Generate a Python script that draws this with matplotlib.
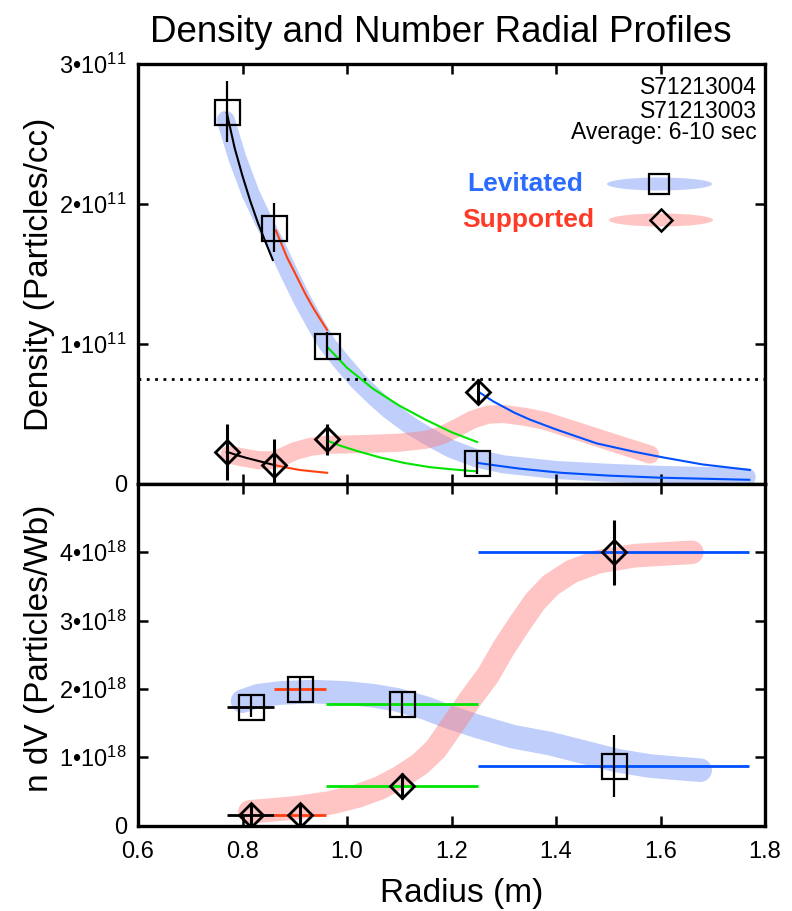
import matplotlib
matplotlib.use('Agg')
import matplotlib.pyplot as plt
from matplotlib import font_manager
from matplotlib.patches import Ellipse

plt.rcParams['font.family'] = ['Liberation Sans', 'DejaVu Sans']
plt.rcParams['mathtext.fontset'] = 'custom'
plt.rcParams['mathtext.rm'] = 'Liberation Sans'
plt.rcParams['mathtext.default'] = 'regular'

# ---------------- data ----------------
E11 = 1e11
E18 = 1e18

# Top panel: density (units of 1e11 particles/cc)
lev_r = [0.770, 0.860, 0.962, 1.249]
lev_n = [2.66, 1.83, 0.986, 0.15]
lev_n_err = [0.22, 0.175, 0.10, 0.08]

sup_r = [0.770, 0.860, 0.962, 1.251]
sup_n = [0.23, 0.136, 0.32, 0.66]
sup_n_err = [0.20, 0.185, 0.11, 0.09]

density_limit = 0.75

# fitted profile segments (levitated)
lev_fit1_r = [0.770, 0.785, 0.800, 0.815, 0.830, 0.845, 0.858]
lev_fit1_n = [2.65, 2.40, 2.20, 2.02, 1.86, 1.72, 1.60]
lev_fit2_r = [0.864, 0.885, 0.904, 0.920, 0.935, 0.950, 0.962]
lev_fit2_n = [1.81, 1.62, 1.48, 1.36, 1.26, 1.17, 1.10]
lev_fit3_r = [0.962, 1.00, 1.05, 1.10, 1.15, 1.20, 1.249]
lev_fit3_n = [0.98, 0.83, 0.68, 0.56, 0.46, 0.37, 0.30]
lev_fit4_r = [1.251, 1.29, 1.33, 1.41, 1.50, 1.60, 1.77]
lev_fit4_n = [0.15, 0.13, 0.11, 0.08, 0.06, 0.045, 0.03]

# fitted profile segments (supported)
sup_fit1_r = [0.770, 0.790, 0.808, 0.830, 0.860]
sup_fit1_n = [0.23, 0.205, 0.186, 0.165, 0.136]
sup_fit2_r = [0.860, 0.885, 0.91, 0.935, 0.962]
sup_fit2_n = [0.136, 0.117, 0.10, 0.09, 0.08]
sup_fit3_r = [0.962, 0.99, 1.02, 1.063, 1.11, 1.159, 1.20, 1.249]
sup_fit3_n = [0.31, 0.27, 0.235, 0.19, 0.15, 0.12, 0.105, 0.09]
sup_fit4_r = [1.251, 1.28, 1.32, 1.35, 1.40, 1.478, 1.55, 1.605, 1.68, 1.771]
sup_fit4_n = [0.66, 0.59, 0.51, 0.46, 0.39, 0.29, 0.23, 0.19, 0.14, 0.10]

# hand-drawn trend bands, top panel
lev_band_r = [0.768, 0.79, 0.815, 0.84, 0.865, 0.89, 0.915, 0.94, 0.962, 0.99, 1.02, 1.05,
              1.08, 1.12, 1.16, 1.20, 1.25, 1.30, 1.40, 1.50, 1.60, 1.765]
lev_band_n = [2.60, 2.33, 2.08, 1.88, 1.70, 1.50, 1.31, 1.14, 1.00, 0.87, 0.74, 0.63,
              0.53, 0.42, 0.33, 0.25, 0.18, 0.14, 0.10, 0.08, 0.065, 0.05]
sup_band_r = [0.775, 0.80, 0.83, 0.86, 0.88, 0.90, 0.93, 0.96, 1.03, 1.10, 1.15, 1.18,
              1.21, 1.24, 1.27, 1.30, 1.34, 1.38, 1.43, 1.48, 1.53, 1.58]
sup_band_n = [0.21, 0.19, 0.17, 0.17, 0.20, 0.235, 0.265, 0.28, 0.285, 0.295, 0.315, 0.345,
              0.40, 0.46, 0.495, 0.50, 0.48, 0.45, 0.39, 0.33, 0.27, 0.21]

# Bottom panel: number per flux (units of 1e18 particles/Wb)
shell_lo = [0.77, 0.86, 0.96, 1.25]
shell_hi = [0.86, 0.96, 1.25, 1.77]
nv_r = [0.816, 0.910, 1.105, 1.511]
lev_nv = [1.74, 2.00, 1.78, 0.87]
lev_nv_err = [0.15, 0.19, 0.19, 0.46]
sup_nv = [0.155, 0.155, 0.58, 4.00]
sup_nv_err = [0.16, 0.17, 0.19, 0.48]

lev_nvband_r = [0.800, 0.83, 0.872, 0.935, 1.0, 1.05, 1.096, 1.15, 1.191, 1.25, 1.318, 1.388,
                1.45, 1.517, 1.58, 1.643, 1.676]
lev_nvband_n = [1.82, 1.90, 1.94, 1.96, 1.94, 1.90, 1.84, 1.72, 1.60, 1.45, 1.30, 1.20,
                1.08, 0.95, 0.87, 0.83, 0.81]
sup_nvband_r = [0.814, 0.86, 0.904, 0.967, 1.02, 1.063, 1.10, 1.14, 1.17, 1.20, 1.235, 1.27,
                1.30, 1.33, 1.36, 1.39, 1.43, 1.48, 1.55, 1.66]
sup_nvband_n = [0.20, 0.23, 0.26, 0.33, 0.43, 0.55, 0.70, 0.90, 1.12, 1.45, 1.84, 2.20,
                2.60, 2.95, 3.28, 3.52, 3.72, 3.86, 3.95, 4.00]

x_ticks = [0.6, 0.8, 1.0, 1.2, 1.4, 1.6, 1.8]
x_ticklabels = ['0.6', '0.8', '1.0', '1.2', '1.4', '1.6', '1.8']
top_yticks = [0, 1, 2, 3]
top_yticklabels = ['0', '1•10$^{11}$', '2•10$^{11}$', '3•10$^{11}$']
bot_yticks = [0, 1, 2, 3, 4]
bot_yticklabels = ['0', '1•10$^{18}$', '2•10$^{18}$', '3•10$^{18}$', '4•10$^{18}$']

seg_colors = ['black', '#ff4010', '#00e400', '#0050ff']

# ---------------- style ----------------
BLUE_BAND = '#7394f4'
PINK_BAND = '#ff7c7c'
BAND_ALPHA = 0.45

W, H = 792, 911
fig = plt.figure(figsize=(W / 100, H / 100), dpi=100)
left, right = 138, 765
ax1 = fig.add_axes([left / W, 1 - 484 / H, (right - left) / W, 420 / H])
ax2 = fig.add_axes([left / W, 1 - 825.5 / H, (right - left) / W, 341.5 / H])

names = {f.name for f in font_manager.fontManager.ttflist}
if 'Liberation Sans Narrow' in names:
    fig.text(441 / W, 1 - 42 / H, 'Density and Number Radial Profiles',
             family='Liberation Sans Narrow', fontsize=31, ha='center', va='baseline')
else:
    fig.text(441 / W, 1 - 42 / H, 'Density and Number Radial Profiles',
             fontsize=26.5, ha='center', va='baseline')

for ax in (ax1, ax2):
    ax.set_xlim(0.6, 1.8)
    ax.set_xticks(x_ticks)
    ax.tick_params(direction='in', length=7, width=1.8, top=True, right=True,
                   labelsize=17, pad=8)
    ax.tick_params(axis='x', pad=11)
    for s in ax.spines.values():
        s.set_linewidth(2.4)

band_kw = dict(solid_capstyle='round', solid_joinstyle='round', zorder=1)

# ---- top panel ----
ax1.set_ylim(0, 3 * E11)
ax1.set_yticks([t * E11 for t in top_yticks])
ax1.set_yticklabels(top_yticklabels)
ax1.tick_params(labelbottom=False)

ax1.plot(lev_band_r, [v * E11 for v in lev_band_n], color=BLUE_BAND, alpha=BAND_ALPHA,
         lw=13, **band_kw)
ax1.plot(sup_band_r, [v * E11 for v in sup_band_n], color=PINK_BAND, alpha=BAND_ALPHA,
         lw=13, **band_kw)

ax1.axhline(density_limit * E11, color='black', lw=2, ls=(0, (1, 2)), zorder=2)

lev_fits = [(lev_fit1_r, lev_fit1_n), (lev_fit2_r, lev_fit2_n),
            (lev_fit3_r, lev_fit3_n), (lev_fit4_r, lev_fit4_n)]
sup_fits = [(sup_fit1_r, sup_fit1_n), (sup_fit2_r, sup_fit2_n),
            (sup_fit3_r, sup_fit3_n), (sup_fit4_r, sup_fit4_n)]
for (r, n), c in zip(lev_fits, seg_colors):
    ax1.plot(r, [v * E11 for v in n], color=c, lw=1.5, zorder=3)
for (r, n), c in zip(sup_fits, seg_colors):
    ax1.plot(r, [v * E11 for v in n], color=c, lw=1.5, zorder=3)

ax1.errorbar(lev_r, [v * E11 for v in lev_n], yerr=[v * E11 for v in lev_n_err],
             fmt='s', ms=18, mfc='none', mec='black', mew=1.6, ecolor='black',
             elinewidth=1.6, capsize=0, zorder=4)
ax1.errorbar(sup_r, [v * E11 for v in sup_n], yerr=[v * E11 for v in sup_n_err],
             fmt='D', ms=12.5, mfc='none', mec='black', mew=2.0, ecolor='black',
             elinewidth=2.2, capsize=0, zorder=4)

# annotations / legend
ax1.text(0.987, 0.945, 'S71213004', transform=ax1.transAxes, ha='right', va='center', fontsize=16.5)
ax1.text(0.987, 0.888, 'S71213003', transform=ax1.transAxes, ha='right', va='center', fontsize=16.5)
ax1.text(0.987, 0.838, 'Average: 6-10 sec', transform=ax1.transAxes, ha='right', va='center', fontsize=16.5)

ax1.text((525 - left) / 627, (484 - 184) / 420, 'Levitated', transform=ax1.transAxes,
         ha='center', va='center', fontsize=19, fontweight='bold', color='#2a6cff')
ax1.text((528 - left) / 627, (484 - 220) / 420, 'Supported', transform=ax1.transAxes,
         ha='center', va='center', fontsize=19, fontweight='bold', color='#ff3a26')
ax1.add_patch(Ellipse(((659.5 - left) / 627, (484 - 184) / 420), 105 / 627, 13 / 420,
                      transform=ax1.transAxes, color=BLUE_BAND, alpha=BAND_ALPHA, lw=0))
ax1.add_patch(Ellipse(((661 - left) / 627, (484 - 220) / 420), 104 / 627, 13 / 420,
                      transform=ax1.transAxes, color=PINK_BAND, alpha=BAND_ALPHA, lw=0))
ax1.plot([(659 - left) / 627], [(484 - 184) / 420], 's', ms=14, mfc='none', mec='black',
         mew=1.6, transform=ax1.transAxes)
ax1.plot([(661 - left) / 627], [(484 - 220) / 420], 'D', ms=11.5, mfc='none', mec='black',
         mew=1.8, transform=ax1.transAxes)

ax1.set_ylabel('Density (Particles/cc)', fontsize=24)
ax1.yaxis.set_label_coords((55 - left) / 627, 0.5)

# ---- bottom panel ----
ax2.set_ylim(0, 5 * E18)
ax2.set_yticks([t * E18 for t in bot_yticks])
ax2.set_yticklabels(bot_yticklabels)
ax2.set_xticklabels(x_ticklabels)

ax2.plot(lev_nvband_r, [v * E18 for v in lev_nvband_n], color=BLUE_BAND, alpha=BAND_ALPHA,
         lw=17, **band_kw)
ax2.plot(sup_nvband_r, [v * E18 for v in sup_nvband_n], color=PINK_BAND, alpha=BAND_ALPHA,
         lw=17, **band_kw)

for lo, hi, y, c in zip(shell_lo, shell_hi, lev_nv, seg_colors):
    ax2.hlines(y * E18, lo, hi, color=c, lw=2.0, zorder=3)
for lo, hi, y, c in zip(shell_lo, shell_hi, sup_nv, seg_colors):
    ax2.hlines(y * E18, lo, hi, color=c, lw=2.0, zorder=3)

ax2.errorbar(nv_r, [v * E18 for v in lev_nv], yerr=[v * E18 for v in lev_nv_err],
             fmt='s', ms=18, mfc='none', mec='black', mew=1.6, ecolor='black',
             elinewidth=1.6, capsize=0, zorder=4)
ax2.errorbar(nv_r, [v * E18 for v in sup_nv], yerr=[v * E18 for v in sup_nv_err],
             fmt='D', ms=12.5, mfc='none', mec='black', mew=2.0, ecolor='black',
             elinewidth=2.2, capsize=0, zorder=4)

ax2.set_ylabel('n dV (Particles/Wb)', fontsize=24)
ax2.yaxis.set_label_coords((55 - left) / 627, 0.52)
ax2.set_xlabel('Radius (m)', fontsize=24)
ax2.xaxis.set_label_coords((462 - left) / 627, (825.5 - 878) / 341.5)

fig.savefig('out.png', dpi=100)
